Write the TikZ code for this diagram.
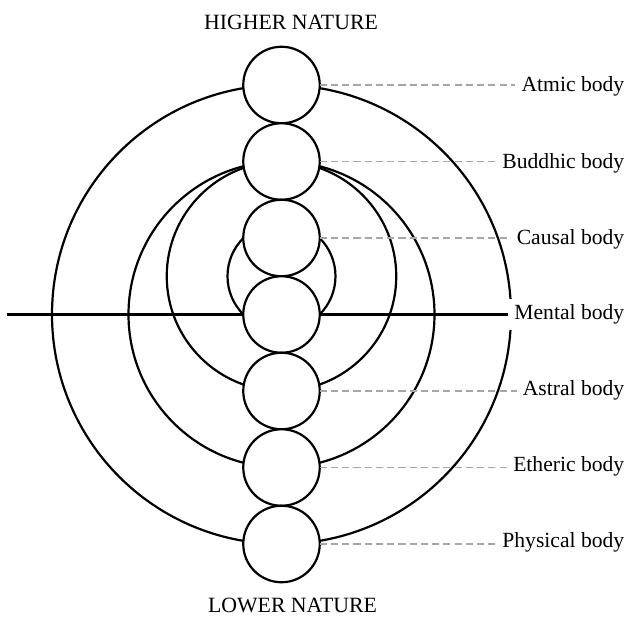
\documentclass[tikz,border=0pt]{standalone}
\usepackage{fontspec}
\setmainfont{Liberation Serif}
\usetikzlibrary{positioning,calc,backgrounds}
\colorlet{dashGray}{gray!70}

\begin{document}
\begin{tikzpicture}[every node/.style={font=\fontsize{12.3}{14}\selectfont},
        body/.style={draw, circle, fill=white, line width=1.25pt, minimum size=1.53cm, inner sep=0pt, outer sep=0pt},
        ring/.style={line width=1.25pt},
        leader/.style={draw=dashGray, dash pattern=on 4pt off 2.4pt, line width=0.6pt}]
        \useasboundingbox (-5.63,-6.03) rectangle (6.95,6.29);

        % column of bodies, top to bottom
        \node[body] (atmic) at (0,4.59) {};
        \node[body, below=0cm of atmic] (buddhic) {};
        \node[body, below=0cm of buddhic] (causal) {};
        \node[body, below=0cm of causal] (mental) {};
        \node[body, below=0cm of mental] (astral) {};
        \node[body, below=0cm of astral] (etheric) {};
        \node[body, below=0cm of etheric] (physical) {};

        \node[font=\fontsize{12.4}{14}\selectfont] (higher) at (0.19,5.85) {HIGHER NATURE};
        \node[font=\fontsize{12.4}{14}\selectfont] (lower) at (0.22,-5.81) {LOWER NATURE};

        % names on the right
        \node[anchor=east] (atmicLbl) at (6.98,4.57) {Atmic body};
        \node[anchor=east] (buddhicLbl) at (6.98,3.03) {Buddhic body};
        \node[anchor=east] (causalLbl) at (6.98,1.51) {Causal body};
        \node[anchor=east, fill=white] (mentalLbl) at (6.98,0) {Mental body};
        \node[anchor=east] (astralLbl) at (6.98,-1.51) {Astral body};
        \node[anchor=east] (ethericLbl) at (6.98,-3.03) {Etheric body};
        \node[anchor=east] (physicalLbl) at (6.98,-4.55) {Physical body};

        \draw[leader] (atmic.east) -- (atmicLbl.west |- atmic.east);
        \draw[leader] (buddhic.east) -- (buddhicLbl.west |- buddhic.east);
        \draw[leader] (causal.east) -- (causalLbl.west |- causal.east);
        \draw[leader] (astral.east) -- (astralLbl.west |- astral.east);
        \draw[leader] (etheric.east) -- (ethericLbl.west |- etheric.east);
        \draw[leader] (physical.east) -- (physicalLbl.west |- physical.east);

        \coordinate (lineStart) at (-5.49,0);
        \begin{scope}[on background layer]
            \draw[ring] (mental) circle (4.59);
            \draw[ring] (mental) circle (3.06);
            \draw[ring] ($(causal)!0.5!(mental)$) circle (2.295);
            \draw[ring] ($(causal)!0.5!(mental)$) circle (1.08);
            \draw[ring] (lineStart) -- (mentalLbl.west);
        \end{scope}
    \end{tikzpicture}
\end{document}
